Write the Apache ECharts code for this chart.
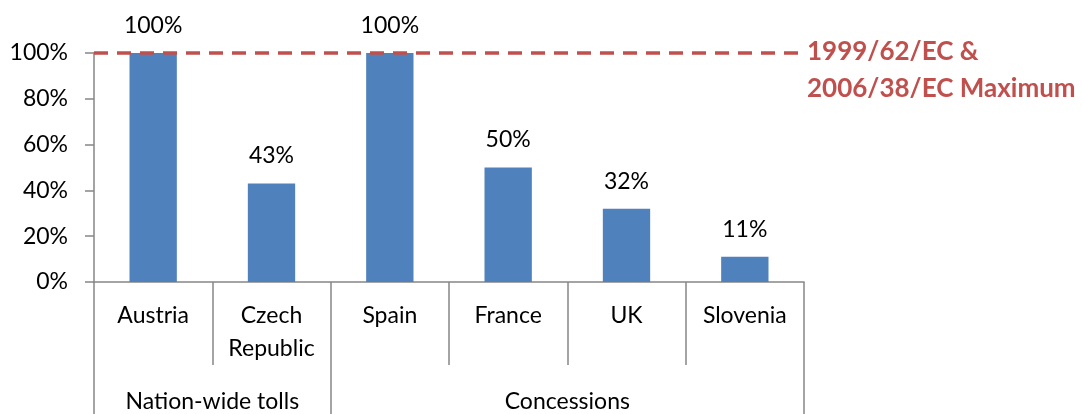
<!DOCTYPE html>
<html>
<head>
<meta charset="utf-8">
<script src="https://cdn.jsdelivr.net/npm/echarts@6/dist/echarts.min.js"></script>
<style>
  html, body { margin: 0; padding: 0; background: #fff; }
  #chart { width: 1082px; height: 414px; }
</style>
</head>
<body>
<div id="chart"></div>
<script>
// Share of the toll charged (per cent of the directive maximum)
const countries = ['Austria', 'Czech\nRepublic', 'Spain', 'France', 'UK', 'Slovenia'];
const shares = [100, 43, 100, 50, 32, 11];
const groups = ['Nation-wide tolls', 'Concessions'];
const groupSizes = [2, 4];
const directiveMax = 100;
const maxLabel = ['1999/62/EC &', '2006/38/EC Maximum'];

// group boundaries and centres on a 0..n scale
const bounds = [0];
groupSizes.forEach(s => bounds.push(bounds[bounds.length - 1] + s));
const mids = groupSizes.map((s, i) => bounds[i] + s / 2);

const FONT = 'Lato';
const FS = 23;
const AXIS_GREY = '#868686';

const chart = echarts.init(document.getElementById('chart'));
chart.setOption({
  animation: false,
  textStyle: { fontFamily: FONT },
  grid: { left: 94, right: 278, top: 53, bottom: 132, containLabel: false },
  xAxis: [
    {
      type: 'category',
      data: countries,
      position: 'bottom',
      axisLine: { lineStyle: { color: AXIS_GREY, width: 1.5 } },
      axisTick: { show: true, interval: 0, length: 83, lineStyle: { color: AXIS_GREY, width: 1.5 } },
      axisLabel: { interval: 0, margin: 17, color: '#000', fontSize: FS, lineHeight: 33, fontFamily: FONT },
      splitLine: { show: false }
    },
    {
      type: 'value',
      min: 0,
      max: bounds[bounds.length - 1],
      position: 'bottom',
      offset: 0,
      axisLine: { show: false },
      axisTick: { show: true, customValues: bounds, length: 132, lineStyle: { color: AXIS_GREY, width: 1.5 } },
      axisLabel: {
        customValues: mids,
        margin: 108,
        color: '#000',
        fontSize: FS,
        fontFamily: FONT,
        formatter: v => groups[mids.indexOf(v)] || ''
      },
      splitLine: { show: false }
    }
  ],
  yAxis: {
    type: 'value',
    min: 0,
    max: 100,
    interval: 20,
    axisLine: { show: true, lineStyle: { color: AXIS_GREY, width: 1.5 } },
    axisTick: { show: true, length: 9, lineStyle: { color: AXIS_GREY, width: 1.5 } },
    axisLabel: { margin: 26, color: '#000', fontSize: FS, fontFamily: FONT, formatter: '{value}%' },
    splitLine: { show: false }
  },
  series: [{
    type: 'bar',
    data: shares,
    barWidth: '40%',
    itemStyle: { color: '#4F81BD' },
    label: {
      show: true,
      position: 'top',
      distance: 16,
      color: '#000',
      fontSize: FS,
      fontFamily: FONT,
      formatter: p => p.value + '%'
    },
    markLine: {
      silent: true,
      symbol: ['none', 'none'],
      z: 5,
      lineStyle: { color: '#C0504D', width: 3.5, type: [14, 9] },
      label: {
        show: true,
        position: 'end',
        distance: 3,
        offset: [0, 17],
        color: '#C0504D',
        fontSize: 26,
        fontWeight: 'bold',
        fontFamily: FONT,
        lineHeight: 37,
        align: 'left',
        formatter: maxLabel.join('\n')
      },
      data: [{ yAxis: directiveMax }]
    }
  }]
});
</script>
</body>
</html>
